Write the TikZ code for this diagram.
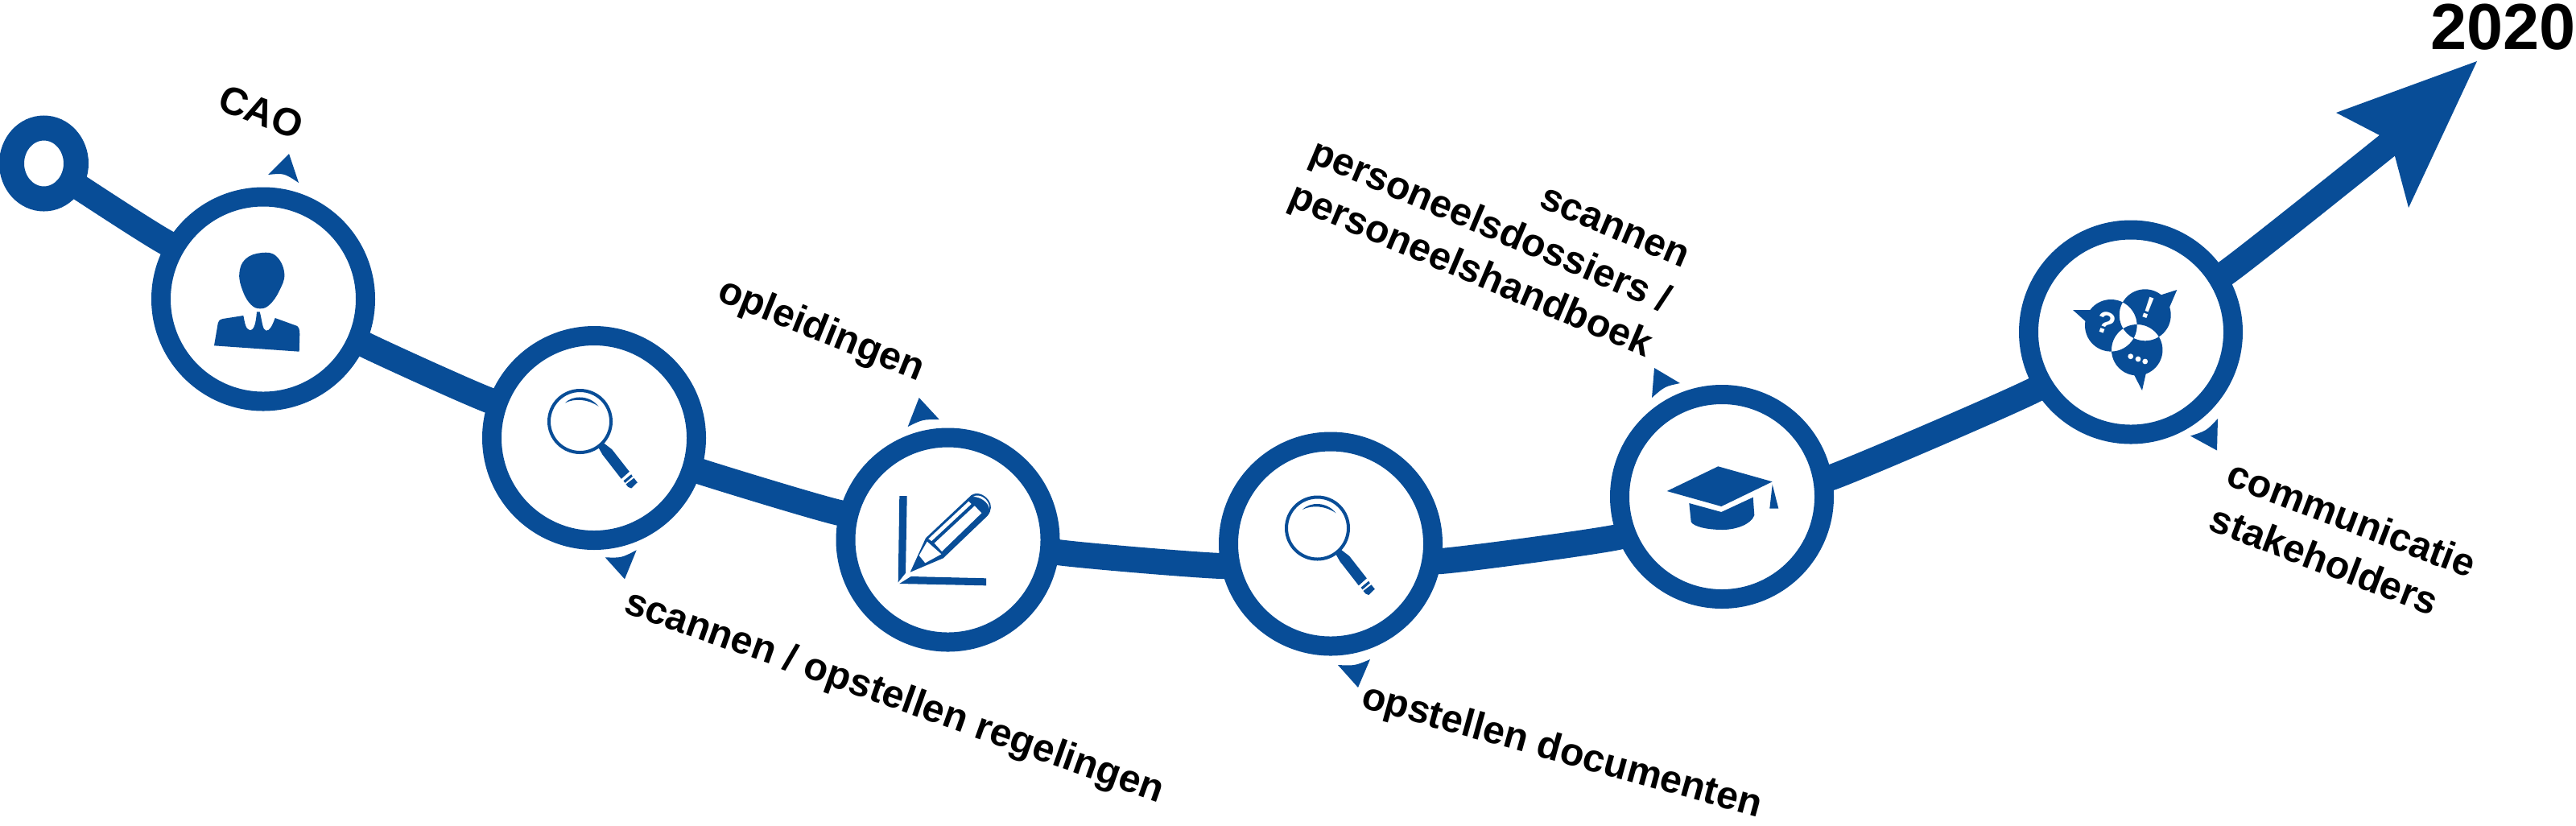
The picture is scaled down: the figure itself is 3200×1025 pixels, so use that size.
\documentclass[tikz,border=0pt]{standalone}
\usepackage{fontspec}
\setmainfont{Liberation Sans}
\usetikzlibrary{calc,backgrounds,shapes.geometric}
\definecolor{blu}{HTML}{084D97}
\tikzset{
  ringnode/.style={circle,draw=blu,fill=white,line width=12pt,minimum size=127pt,inner sep=0pt,outer sep=0pt},
  startnode/.style={ellipse,draw=blu,fill=white,line width=15.5pt,minimum width=40pt,minimum height=44pt,inner sep=0pt,outer sep=0pt},
  trackline/.style={draw=blu,line width=16pt},
  lab/.style={font=\fontsize{24.2}{30}\selectfont\bfseries,inner sep=0pt,outer sep=0pt,text=black},
  pointer/.style={fill=blu,draw=none},
  iconfill/.style={fill=blu,draw=none},
  hole/.style={fill=white,draw=none},
  magnifier/.pic={
    \draw[blu,line width=2pt] (0,0) circle[radius=38.5];
    \fill[blu] (-18.7,-23) .. controls (-9,-33) and (12,-33) .. (23,-18.7) .. controls (10,-28) and (-7,-29) .. cycle;
    \fill[blu] (22.3,31.3) -- (29.7,27) -- (39.7,34.7) -- (61.3,62.3) -- (51.3,71.3) -- (28,41.3) -- cycle;
    \fill[blu] (54,73.7) -- (63.7,65.7) -- (65.3,68.3) -- (56,76.3) -- cycle;
    \fill[blu] (57,78) -- (67,70.3) -- (71.3,75.7) -- (63.7,83) -- (59.7,81.3) -- cycle;
  }
}
\begin{document}
\begin{tikzpicture}[x=0.5pt,y=-0.5pt]
\useasboundingbox (0,0) rectangle (3200,1025);
% stations
\node[startnode] (s0) at (54.5,203) {};
\node[ringnode] (c1) at (327,371.5) {};
\node[ringnode] (c2) at (738,544) {};
\node[ringnode] (c3) at (1177.5,670.5) {};
\node[ringnode] (c4) at (1653,675.5) {};
\node[ringnode] (c5) at (2139,617) {};
\node[ringnode] (c6) at (2647,412.5) {};
% arrow head
\coordinate (tipA) at (3077,76);
\coordinate (barbA) at (2902,140);
\coordinate (notchA) at (2956,168);
\coordinate (notchB) at (2975,194);
\coordinate (barbB) at (2992,258);
\coordinate (endin) at (2985,165);
% points where the track crosses each ring
\coordinate (a1) at (99,233);
\coordinate (b1) at (206,301);
\coordinate (a2) at (453,428);
\coordinate (b2) at (607,497);
\coordinate (a3) at (871,586);
\coordinate (b3) at (1043,637);
\coordinate (a4) at (1314,686);
\coordinate (b4) at (1518,703);
\coordinate (a5) at (1790,697);
\coordinate (b5) at (2010,667);
\coordinate (a6) at (2275,593);
\coordinate (b6) at (2528,484);
\coordinate (a7) at (2765,339);
\begin{scope}[on background layer]
\draw[trackline] plot[smooth,tension=.22] coordinates {(s0) (a1) (b1) (a2) (b2) (a3) (b3) (a4) (b4) (a5) (b5) (a6) (b6) (a7) (endin)};
\end{scope}
\fill[blu] (tipA) -- (barbA) -- (notchA) -- (notchB) -- (barbB) -- cycle;
% triangles
\fill[pointer] (359,191) -- (333,217) .. controls (353,215) .. (371,227) -- cycle;
\fill[pointer] (776,719.3) -- (751.7,692.3) .. controls (772,693) .. (790.7,683.3) -- cycle;
\fill[pointer] (1141.7,494) -- (1127.7,530) .. controls (1146,521) .. (1166.7,521) -- cycle;
\fill[pointer] (1687,854) -- (1662,826) .. controls (1683,827) .. (1702,819) -- cycle;
\fill[pointer] (2055,457) -- (2087,476) .. controls (2068,480) .. (2052,494) -- cycle;
\fill[pointer] (2754,559.5) -- (2755,520) .. controls (2741,535) .. (2721,541.5) -- cycle;
% person
\fill[iconfill] plot[smooth cycle,tension=.7] coordinates {(325,314) (343.3,318.3) (353.3,340) (346.7,361.7) (335,378.3) (323.3,383.3) (311.7,378.3) (301.7,361.7) (297.3,340) (305,321.7)};
\fill[iconfill] (266,429.3) -- (371.7,436.7) -- (372.3,415) .. controls (372,408) and (371,406) .. (369.3,405) -- (341.7,395) .. controls (338,405) and (335,411) .. (330.7,410.7) .. controls (326,410) and (326,400) .. (322.7,387.3) -- (319,387.3) .. controls (318,400) and (316,411) .. (310,410) .. controls (305,409) and (304,400) .. (302.3,392) -- (276.7,396) .. controls (272,397) and (271,400) .. (270.7,401.7) -- cycle;
% magnifiers
\pic at (720.5,523.5) {magnifier};
\pic at (1636.5,656) {magnifier};
% pencil
\fill[iconfill] (1117.3,616) -- (1126.7,616) -- (1125,711.7) -- (1115.7,723.3) -- cycle;
\fill[iconfill] (1117.3,725) -- (1131.7,716) -- (1225,718.3) -- (1225,727.3) -- cycle;
\fill[iconfill] (1130.7,710.7) -- (1150,668.3) -- (1206.7,615) .. controls (1213,611) and (1222,613) .. (1228.3,621.7) .. controls (1232,627) and (1232,634) .. (1226.7,640.7) -- (1171.7,693.3) -- cycle;
\fill[hole] (1153.3,669.3) -- (1203.3,622.7) -- (1206.7,626) -- (1157.3,672) -- cycle;
\fill[hole] (1160.7,674.7) -- (1210.7,628.3) -- (1219.3,637.3) -- (1170,685) -- cycle;
\fill[hole] (1151.7,672.7) -- (1169.3,688.3) -- (1149.3,699.3) -- (1141.7,690) -- cycle;
\fill[hole] (1209,617) .. controls (1216,612) and (1230,620) .. (1229,632) .. controls (1228,624) and (1218,617) .. cycle;
% cap
\fill[iconfill] (2134.3,579.3) -- (2201.7,598.3) -- (2138.3,629) -- (2070.7,610) -- cycle;
\fill[iconfill] (2098.3,625) -- (2138.3,636) -- (2177.7,617.7) -- (2179.3,640) .. controls (2175,652) and (2155,658) .. (2140,658) .. controls (2120,658) and (2104,654) .. (2100.7,648.3) -- cycle;
\fill[iconfill] (2201.7,601.7) -- (2209.3,631.7) -- (2198.3,631.7) -- cycle;
% speech bubbles
\fill[iconfill,even odd rule] (2622.3,404.3) circle[radius=32.3] (2664.7,391.3) circle[radius=32] (2654.7,434.7) circle[radius=31.7];
\fill[iconfill] (2575,385) -- (2598.3,385) -- (2591.7,400) -- cycle;
\fill[iconfill] (2704.3,360) -- (2683.3,366.7) -- (2695,381.7) -- cycle;
\fill[iconfill] (2661,485) -- (2650.7,465) -- (2666,462.7) -- cycle;
\node[font=\fontsize{19}{19}\selectfont\bfseries,text=white,rotate=-20,inner sep=0pt] (q) at (2615.5,401) {?};
\node[font=\fontsize{19}{19}\selectfont\bfseries,text=white,rotate=-20,inner sep=0pt] (x) at (2668.5,382) {!};
\fill[white] (2646.7,442.7) circle[radius=3.4] (2656,446) circle[radius=3.4] (2664.7,449) circle[radius=3.4];
% labels
\node[lab,rotate=-21,anchor=base west] (l1) at (268,135) {CAO};
\node[lab,rotate=-19.6,anchor=base west] (l2) at (773,760) {scannen / opstellen regelingen};
\node[lab,rotate=-22,anchor=base west] (l3) at (889,372) {opleidingen};
\node[lab,rotate=-15.5,anchor=base west] (l4) at (1689,878) {opstellen documenten};
\node[lab,rotate=-23,anchor=south east,align=right] (l5) at (2040,453) {scannen\\personeelsdossiers /\\personeelshandboek};
\node[lab,rotate=-21,anchor=north west,align=left] (l6) at (2776,569) {communicatie\\stakeholders};
\node[font=\fontsize{40.5}{41}\selectfont\bfseries,inner sep=0pt,anchor=base east] (yr) at (3200,61) {2020};
\end{tikzpicture}
\end{document}
